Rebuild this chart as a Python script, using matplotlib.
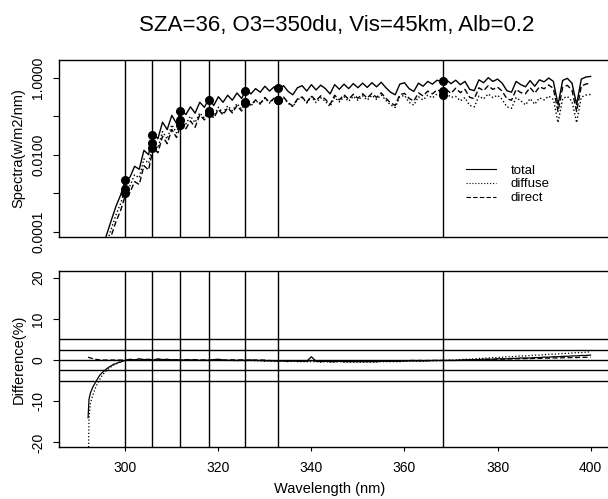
import numpy as np
import matplotlib
matplotlib.use("Agg")
import matplotlib.pyplot as plt

plt.rcParams['font.family'] = ['Liberation Sans', 'DejaVu Sans']

TITLE = "SZA=36, O3=350du, Vis=45km, Alb=0.2"

# spectra (W/m2/nm), 1 nm steps 292..400
wavelength = np.arange(292, 401)
total = [
    3.0e-6, 7.0e-6, 1.6e-5, 3.6e-5, 8.5e-5, 2.0e-4, 4.6e-4, 9.0e-4,
    2.2e-3, 2.6e-3, 5.0e-3, 4.2e-3, 0.013, 0.010, 0.036, 0.026, 0.070, 0.045,
    0.105, 0.065, 0.150, 0.110, 0.175, 0.120, 0.230, 0.170, 0.290, 0.190,
    0.320, 0.230, 0.350, 0.260, 0.400, 0.290, 0.50, 0.38, 0.52, 0.42,
    0.60, 0.45, 0.58, 0.50, 0.62, 0.44, 0.36, 0.55, 0.62, 0.45,
    0.66, 0.48, 0.64, 0.52, 0.38, 0.66, 0.50, 0.68, 0.52, 0.70,
    0.55, 0.72, 0.56, 0.74, 0.58, 0.76, 0.55, 0.42, 0.36, 0.68,
    0.74, 0.52, 0.44, 0.72, 0.60, 0.80, 0.68, 0.86, 0.78, 0.88,
    0.70, 0.86, 0.66, 0.80, 0.50, 0.46, 0.88, 0.74, 1.00, 0.80,
    0.92, 0.72, 0.46, 0.42, 0.80, 0.66, 0.58, 0.84, 0.60, 0.88,
    0.78, 0.98, 0.80, 0.20, 0.85, 0.96, 0.72, 0.20, 0.92, 1.04,
    1.08,
]
direct = [
    1.2e-6, 2.8e-6, 6.4e-6, 1.44e-5, 3.4e-5, 8.0e-5, 1.84e-4, 3.6e-4,
    8.8e-4, 1.04e-3, 2.0e-3, 1.68e-3, 5.2e-3, 4.0e-3, 0.0155, 0.0112, 0.0301, 0.0194,
    0.0452, 0.0280, 0.0645, 0.0473, 0.0753, 0.0516, 0.108, 0.080, 0.136, 0.089,
    0.150, 0.108, 0.165, 0.122, 0.188, 0.136, 0.255, 0.194, 0.265, 0.214,
    0.306, 0.230, 0.296, 0.255, 0.316, 0.224, 0.184, 0.281, 0.316, 0.230,
    0.337, 0.254, 0.339, 0.276, 0.201, 0.350, 0.265, 0.360, 0.276, 0.371,
    0.292, 0.382, 0.297, 0.392, 0.307, 0.403, 0.292, 0.223, 0.191, 0.360,
    0.392, 0.291, 0.246, 0.403, 0.336, 0.448, 0.381, 0.482, 0.437, 0.493,
    0.392, 0.533, 0.409, 0.496, 0.310, 0.285, 0.546, 0.459, 0.620, 0.496,
    0.570, 0.446, 0.285, 0.260, 0.496, 0.409, 0.383, 0.554, 0.396, 0.581,
    0.515, 0.647, 0.528, 0.132, 0.561, 0.634, 0.475, 0.132, 0.607, 0.686,
    0.713,
]
diffuse = [
    1.8e-6, 4.2e-6, 9.6e-6, 2.16e-5, 5.1e-5, 1.2e-4, 2.76e-4, 5.4e-4,
    1.32e-3, 1.56e-3, 3.0e-3, 2.52e-3, 7.8e-3, 6.0e-3, 0.0205, 0.0148, 0.0399, 0.0256,
    0.0598, 0.0370, 0.0855, 0.0627, 0.0997, 0.0684, 0.122, 0.090, 0.154, 0.101,
    0.170, 0.122, 0.185, 0.138, 0.212, 0.154, 0.245, 0.186, 0.255, 0.206,
    0.294, 0.220, 0.284, 0.245, 0.304, 0.216, 0.176, 0.269, 0.304, 0.220,
    0.323, 0.226, 0.301, 0.244, 0.179, 0.310, 0.235, 0.320, 0.244, 0.329,
    0.258, 0.338, 0.263, 0.348, 0.273, 0.357, 0.258, 0.197, 0.169, 0.320,
    0.348, 0.229, 0.194, 0.317, 0.264, 0.352, 0.299, 0.378, 0.343, 0.387,
    0.308, 0.327, 0.251, 0.304, 0.190, 0.175, 0.334, 0.281, 0.380, 0.304,
    0.350, 0.274, 0.175, 0.160, 0.304, 0.251, 0.197, 0.286, 0.204, 0.299,
    0.265, 0.333, 0.272, 0.068, 0.289, 0.326, 0.245, 0.068, 0.313, 0.354,
    0.367,
]

# filter channels
chan_wl = [300.0, 305.8, 311.8, 318.0, 325.8, 332.8, 368.2]
chan_total = [0.0022, 0.032, 0.14, 0.27, 0.45, 0.53, 0.82]
chan_direct = [0.0010, 0.015, 0.060, 0.12, 0.22, 0.27, 0.45]
chan_diffuse = [0.0013, 0.020, 0.080, 0.14, 0.23, 0.26, 0.35]

# difference (%)
diff_wl = [292.0, 292.2, 292.5, 293.0, 293.5, 294.0, 294.5, 295.0, 295.5,
           296.0, 296.5, 297.0, 297.5, 298.0, 298.5, 299.0, 299.5] + list(range(300, 401))
diff_total = [
    -14.0, -9.5, -8.0, -6.6, -5.6, -4.6, -3.7, -3.1, -2.6,
    -2.1, -1.7, -1.4, -1.0, -0.9, -0.6, -0.5, -0.2, -0.1,
    0.2, 0.0, 0.3, 0.1, 0.2, 0.0, 0.3, 0.1, 0.2, 0.0,
    0.1, -0.1, 0.1, 0.0, 0.1, -0.1, 0.0, -0.1, 0.1, 0.2,
    0.0, -0.1, 0.0, -0.1, 0.0, -0.1, 0.0, -0.1, -0.1, -0.2,
    -0.1, -0.2, -0.2, -0.2, -0.3, -0.2, -0.3, -0.3, -0.3, 0.8,
    -0.3, -0.4, -0.3, -0.4, -0.4, -0.3, -0.4, -0.4, -0.4, -0.4,
    -0.4, -0.4, -0.4, -0.4, -0.3, -0.3, -0.3, -0.3, -0.3, -0.2,
    -0.2, -0.2, -0.2, -0.2, -0.2, -0.1, -0.1, -0.1, -0.1, -0.1,
    -0.1, 0.0, 0.0, 0.1, 0.1, 0.1, 0.2, 0.2, 0.2, 0.3,
    0.3, 0.3, 0.4, 0.4, 0.5, 0.5, 0.5, 0.6, 0.6, 0.7,
    0.7, 0.8, 0.8, 0.9, 0.9, 1.0, 1.0, 1.1, 1.1, 1.2,
]
diff_diffuse = [
    -30.0, -14.0, -10.5, -8.6, -7.0, -5.7, -4.7, -3.8, -3.1,
    -2.5, -2.0, -1.6, -1.2, -0.9, -0.7, -0.4, -0.3, -0.1,
    0.1, 0.0, 0.2, 0.1, 0.1, 0.0, 0.2, 0.0, 0.1, 0.0,
    0.0, -0.1, 0.0, -0.1, 0.0, -0.1, -0.1, -0.1, 0.0, 0.1,
    -0.1, -0.1, -0.1, -0.2, -0.1, -0.2, -0.1, -0.2, -0.2, -0.3,
    -0.2, -0.3, -0.3, -0.3, -0.4, -0.3, -0.4, -0.4, -0.4, -0.4,
    -0.4, -0.5, -0.4, -0.5, -0.5, -0.4, -0.5, -0.5, -0.5, -0.5,
    -0.5, -0.5, -0.5, -0.5, -0.4, -0.4, -0.4, -0.4, -0.4, -0.3,
    -0.3, -0.3, -0.3, -0.3, -0.2, -0.2, -0.2, -0.1, -0.1, 0.0,
    0.0, 0.1, 0.2, 0.2, 0.3, 0.4, 0.4, 0.5, 0.6, 0.6,
    0.7, 0.8, 0.8, 0.9, 1.0, 1.0, 1.1, 1.2, 1.2, 1.3,
    1.4, 1.4, 1.5, 1.6, 1.6, 1.7, 1.8, 1.8, 1.9, 2.0,
]
diff_direct = [
    0.7, 0.6, 0.5, 0.35, 0.2, 0.1, 0.05, 0.0, 0.0,
    0.0, 0.0, 0.0, 0.0, 0.0, 0.0, 0.0, 0.0, 0.0,
    0.0, 0.0, 0.0, 0.0, 0.0, 0.0, 0.0, 0.0, 0.0, 0.0,
    0.0, 0.0, 0.0, 0.0, 0.0, 0.0, 0.0, 0.0, 0.0, 0.0,
    0.0, 0.0, 0.0, 0.0, 0.0, 0.0, 0.0, 0.0, 0.0, 0.0,
    -0.2, -0.2, -0.2, -0.2, -0.2, -0.2, -0.2, -0.2, -0.2, -0.2,
    -0.2, -0.2, -0.2, -0.2, -0.2, -0.2, -0.2, -0.2, -0.2, -0.2,
    -0.2, -0.2, -0.2, -0.2, -0.2, -0.2, -0.2, -0.2, -0.2, -0.2,
    -0.1, -0.1, -0.1, -0.1, -0.1, -0.1, -0.1, -0.1, -0.1, -0.1,
    -0.1, -0.1, 0.0, 0.0, 0.05, 0.1, 0.1, 0.15, 0.15, 0.2,
    0.2, 0.25, 0.25, 0.3, 0.3, 0.35, 0.35, 0.4, 0.4, 0.45,
    0.45, 0.5, 0.5, 0.55, 0.55, 0.6, 0.6, 0.65, 0.65, 0.7,
]
diff_hlines = [5, 2.5, 0, -2.5, -5]

W, H = 608, 499
fig = plt.figure(figsize=(W / 100, H / 100), dpi=100)

def px_axes(x0, y0, x1, y1):
    return fig.add_axes([x0 / W, 1 - y1 / H, (x1 - x0) / W, (y1 - y0) / H])

ax1 = px_axes(59, 60, 612, 237)
ax2 = px_axes(59, 271, 612, 447)
xlim = (285.75, 404.6)

for ax in (ax1, ax2):
    ax.set_xlim(*xlim)
    for w in chan_wl:
        ax.axvline(w, color='black', lw=1.0, zorder=1)
    for sp in ax.spines.values():
        sp.set_linewidth(1.0)
    ax.tick_params(direction='out', length=4, width=0.8, labelsize=10, pad=6)

# top panel
ax1.set_yscale('log')
ax1.set_ylim(7.3e-5, 2.88)
l_tot, = ax1.plot(wavelength, total, color='black', lw=1.0, ls='-', label='total', zorder=3)
l_dif, = ax1.plot(wavelength, diffuse, color='black', lw=1.0, ls=':', label='diffuse', zorder=3)
l_dir, = ax1.plot(wavelength, direct, color='black', lw=1.0, ls='--', dashes=(4, 2), label='direct', zorder=3)
for vals in (chan_total, chan_direct, chan_diffuse):
    ax1.plot(chan_wl, vals, 'o', color='black', ms=5.5, zorder=4)
ax1.set_yticks([1e-4, 1e-3, 1e-2, 1e-1, 1])
ax1.set_yticklabels(["0.0001", "", "0.0100", "", "1.0000"], rotation=90, va='center')
ax1.yaxis.set_minor_locator(matplotlib.ticker.NullLocator())
ax1.tick_params(axis='x', bottom=False, labelbottom=False)
ax1.set_ylabel("Spectra(w/m2/nm)", fontsize=10.5)
ax1.yaxis.set_label_coords(-0.061, 0.5)
leg = ax1.legend(handles=[l_tot, l_dif, l_dir], loc='upper left', bbox_to_anchor=(0.736, 0.41),
                 frameon=False, fontsize=9.5, handlelength=2.3, handletextpad=1.1,
                 labelspacing=0.12, borderpad=0, borderaxespad=0)
for h in leg.legend_handles:
    h.set_linewidth(0.8)

# bottom panel
ax2.set_ylim(-21.1, 21.6)
for h in diff_hlines:
    ax2.axhline(h, color='black', lw=1.0, zorder=1)
ax2.plot(diff_wl, diff_total, color='black', lw=0.9, ls='-', zorder=3)
ax2.plot(diff_wl, diff_diffuse, color='black', lw=0.9, ls=':', zorder=3)
ax2.plot(diff_wl, diff_direct, color='black', lw=0.9, ls='--', dashes=(4, 2), zorder=3)
ax2.set_yticks([-20, -10, 0, 10, 20])
ax2.set_yticklabels(["-20", "-10", "0", "10", "20"], rotation=90, va='center')
ax2.set_xticks([300, 320, 340, 360, 380, 400])
ax2.tick_params(axis='x', length=3, pad=7)
ax2.set_ylabel("Difference(%)", fontsize=10.5)
ax2.yaxis.set_label_coords(-0.061, 0.5)
ax2.set_xlabel("Wavelength (nm)", fontsize=10.5)
ax2.xaxis.set_label_coords(0.49, -0.2)

fig.text(336.5 / W, 1 - 25 / H, TITLE, ha='center', va='center', fontsize=16)

fig.savefig("out.png", dpi=100)
